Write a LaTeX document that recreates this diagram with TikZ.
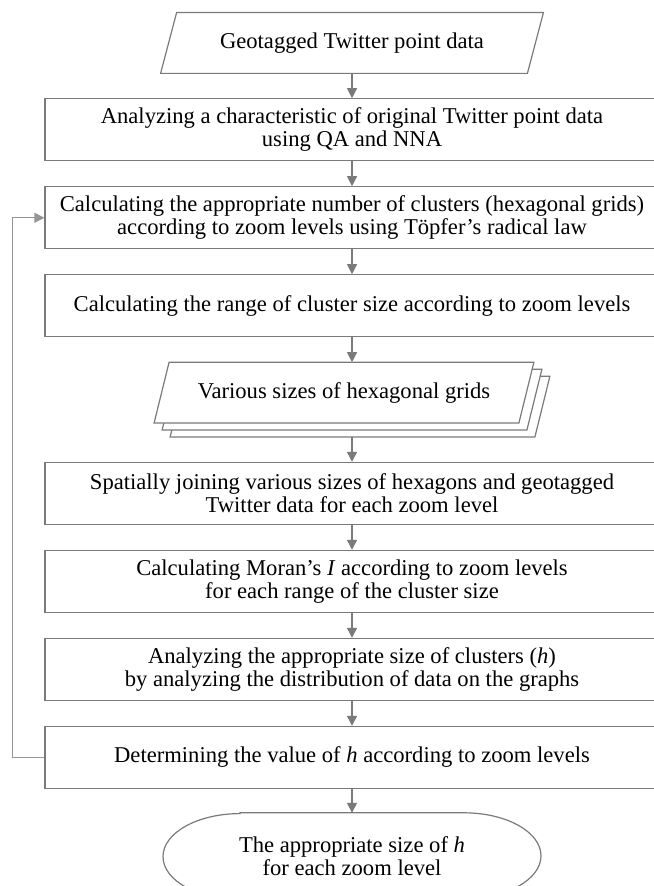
\documentclass[tikz,border=0pt]{standalone}
\usepackage{fontspec}
\setmainfont{Liberation Serif}
\usetikzlibrary{arrows.meta,positioning}

\definecolor{linegray}{HTML}{7A7A7A}

\begin{document}
\begin{tikzpicture}[
    node distance=12.4pt,
    font=\fontsize{11.3}{11.6}\selectfont,
    block/.style={rectangle, draw=linegray, line width=0.6pt, minimum width=307pt, minimum height=31pt, align=center, inner sep=2pt},
    data/.style={rectangle, minimum width=183pt, minimum height=30pt, align=center, inner sep=2pt},
    term/.style={rectangle, minimum width=189pt, minimum height=43pt, align=center},
    outline/.style={draw=linegray, line width=0.6pt},
    arrow/.style={-{Triangle[length=5pt, width=5pt]}, draw=linegray, line width=0.6pt},
    back/.style={-{Triangle[length=5pt, width=5pt]}, draw=linegray!80, line width=0.6pt}
]
\useasboundingbox (0,0) rectangle (326.5pt,-443pt);

% Input data (parallelogram)
\node[data] (in) at (176pt,-21.5pt) {Geotagged Twitter point data};
\draw[outline] ([xshift=4pt]in.north west) -- ([xshift=4pt]in.north east)
    -- ([xshift=-4pt]in.south east) -- ([xshift=-4pt]in.south west) -- cycle;

\node[block, below=of in] (b1) {Analyzing a characteristic of original Twitter point data\\using QA and NNA};
\node[block, below=of b1] (b2) {Calculating the appropriate number of clusters (hexagonal grids)\\according to zoom levels using Töpfer’s radical law};
\node[block, below=of b2] (b3) {Calculating the range of cluster size according to zoom levels};

% Stacked grids: two copies behind the front one
\node[data, minimum width=182pt, below=of b3, xshift=-4pt] (grids) {};
\foreach \dx/\dy in {8/-7, 4/-3.5, 0/0}
    \draw[outline, fill=white] ([shift={(\dx pt+3.75pt,\dy pt)}]grids.north west)
        -- ([shift={(\dx pt+3.75pt,\dy pt)}]grids.north east)
        -- ([shift={(\dx pt-3.75pt,\dy pt)}]grids.south east)
        -- ([shift={(\dx pt-3.75pt,\dy pt)}]grids.south west) -- cycle;
\node[data, minimum width=182pt] at (grids) {Various sizes of hexagonal grids};
\coordinate (gbot) at ([yshift=-7pt]grids.south);

\node[block, below=19.4pt of grids, xshift=4pt] (b4) {Spatially joining various sizes of hexagons and geotagged\\Twitter data for each zoom level};
\node[block, below=of b4] (b5) {Calculating Moran’s \textit{I} according to zoom levels\\for each range of the cluster size};
\node[block, below=of b5] (b6) {Analyzing the appropriate size of clusters (\textit{h})\\by analyzing the distribution of data on the graphs};
\node[block, below=of b6] (b7) {Determining the value of \textit{h} according to zoom levels};

% Output (terminal with elliptic ends)
\node[term, below=11.9pt of b7] (out) {The appropriate size of \textit{h}\\for each zoom level};
\draw[outline] ([xshift=-56pt]out.north) -- ([xshift=56pt]out.north)
    arc[start angle=90, end angle=-90, x radius=38.5pt, y radius=21.5pt]
    -- ([xshift=-56pt]out.south)
    arc[start angle=270, end angle=90, x radius=38.5pt, y radius=21.5pt] -- cycle;

\draw[arrow] (in) -- (b1);
\draw[arrow] (b1) -- (b2);
\draw[arrow] (b2) -- (b3);
\draw[arrow] (b3) -- (b3 |- grids.north);
\draw[arrow] (gbot -| b4) -- (b4);
\draw[arrow] (b4) -- (b5);
\draw[arrow] (b5) -- (b6);
\draw[arrow] (b6) -- (b7);
\draw[arrow] (b7) -- (out);

% Loop back
\draw[back] (b7.west) -- ++(-16pt,0) |- (b2.west);

\end{tikzpicture}
\end{document}
